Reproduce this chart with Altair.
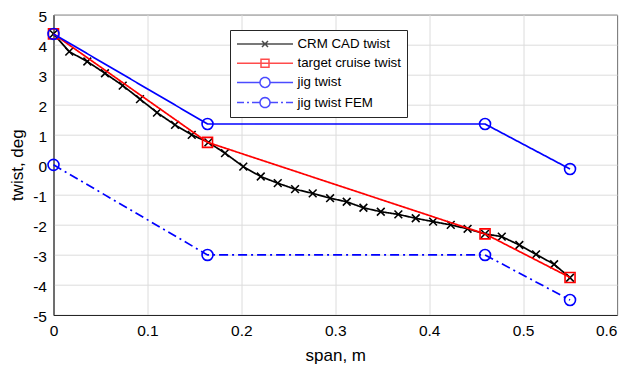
import math
import altair as alt
import pandas as pd

# ---------------- data ----------------
series_names = ["CRM CAD twist", "target cruise twist", "jig twist", "jig twist FEM"]
series_colors = ["#000000", "#ff0000", "#0000ff", "#0000ff"]

span_cad = [0.0, 0.0168, 0.036, 0.0548, 0.0737, 0.0921, 0.1102, 0.1294, 0.1472, 0.1649,
            0.1826, 0.2021, 0.2207, 0.2388, 0.2572, 0.276, 0.2945, 0.3122, 0.33, 0.3485,
            0.3672, 0.3857, 0.4042, 0.423, 0.4409, 0.4595, 0.4773, 0.496, 0.5138, 0.533, 0.55]
twist_cad = [4.36, 3.77, 3.44, 3.05, 2.64, 2.19, 1.74, 1.33, 1.00, 0.75,
             0.39, -0.06, -0.39, -0.61, -0.81, -0.95, -1.11, -1.23, -1.43, -1.56,
             -1.65, -1.78, -1.89, -2.00, -2.13, -2.30, -2.39, -2.67, -2.98, -3.31, -3.76]

span_key = [0.0, 0.164, 0.4595, 0.55]
twist_target = [4.36, 0.75, -2.30, -3.75]
twist_jig = [4.36, 1.36, 1.36, -0.14]
twist_jig_fem = [0.0, -3.0, -3.0, -4.5]

x_ticks = [0, 0.1, 0.2, 0.3, 0.4, 0.5, 0.6]
y_ticks = [-5, -4, -3, -2, -1, 0, 1, 2, 3, 4, 5]

frames = {
    "CRM CAD twist": pd.DataFrame({"span": span_cad, "twist": twist_cad}),
    "target cruise twist": pd.DataFrame({"span": span_key, "twist": twist_target}),
    "jig twist": pd.DataFrame({"span": span_key, "twist": twist_jig}),
    "jig twist FEM": pd.DataFrame({"span": span_key, "twist": twist_jig_fem}),
}
for k, f in frames.items():
    f["series"] = k

# ---------------- styles ----------------
X_PATH = "M-1,-1L1,1M-1,1L1,-1"
dash_fem = [9, 4, 2, 4]
styles = {
    "CRM CAD twist": dict(color="#000000", dash=[1, 0], shape=X_PATH, size=60),
    "target cruise twist": dict(color="#ff0000", dash=[1, 0], shape="square", size=100),
    "jig twist": dict(color="#0000ff", dash=[1, 0], shape="circle", size=120),
    "jig twist FEM": dict(color="#0000ff", dash=dash_fem, shape="circle", size=120),
}

xs = alt.X("span:Q", scale=alt.Scale(domain=[0, 0.6], nice=False, zero=False),
           axis=alt.Axis(values=x_ticks, title="span, m", format=".1~f", labelFlush=False,
                         labelAlign=alt.condition("datum.value >= 0.6", alt.value("right"),
                                                  alt.value("center")),
                         titleX=281.75, titleY=40, titleBaseline="middle"))
ys = alt.Y("twist:Q", scale=alt.Scale(domain=[-5, 5], nice=False, zero=False),
           axis=alt.Axis(values=y_ticks, title="twist, deg", labelExpr="'' + datum.value",
                         labelFlush=False, labelOffset=1.5,
                         titleX=-36, titleY=150, titleBaseline="middle"))

layers = []
for name in series_names:
    st = styles[name]
    base = alt.Chart(frames[name])
    layers.append(base.mark_line(color=st["color"], strokeWidth=1.7,
                                 strokeDash=st["dash"]).encode(x=xs, y=ys))
    layers.append(base.mark_point(shape=st["shape"], size=st["size"], filled=False,
                                  color=st["color"], strokeWidth=1.6, opacity=1).encode(x=xs, y=ys))

# ---------------- legend symbols (line + marker as custom paths) ----------------
U = 7.0  # px per path unit (sqrt(196)/2)


def seg(a, b):
    return "M%.3f,0L%.3f,0" % ((a - 7) / U, (b - 7) / U)


def circle(cx, r, n=24):
    pts = []
    for i in range(n + 1):
        t = 2 * math.pi * i / n
        pts.append(((cx + r * math.cos(t) - 7) / U, (r * math.sin(t)) / U))
    return "M" + "L".join("%.3f,%.3f" % p for p in pts)


def cross(cx, r):
    a = (cx - r - 7) / U
    b = (cx + r - 7) / U
    h = r / U
    return "M%.3f,%.3fL%.3f,%.3fM%.3f,%.3fL%.3f,%.3f" % (a, -h, b, h, a, h, b, -h)


def square(cx, r):
    a = (cx - r - 7) / U
    b = (cx + r - 7) / U
    h = r / U
    return "M%.3f,%.3fL%.3f,%.3fL%.3f,%.3fL%.3f,%.3fZ" % (a, -h, b, -h, b, h, a, h)


legend_paths = [
    seg(0, 56) + cross(28, 3),
    seg(0, 56) + square(28, 4),
    seg(0, 23) + circle(28, 5) + seg(33, 56),
    seg(0, 7) + seg(10, 12) + seg(15, 23) + circle(28, 5) + seg(33, 41) + seg(44, 46) + seg(49, 56),
]

legend_layer = alt.Chart(frames["CRM CAD twist"]).transform_filter("false").mark_point(
    filled=False, strokeWidth=1.5
).encode(
    x=xs, y=ys,
    color=alt.Color("series:N", scale=alt.Scale(domain=series_names, range=series_colors),
                    legend=alt.Legend(title=None)),
    shape=alt.Shape("series:N", scale=alt.Scale(domain=series_names, range=legend_paths),
                    legend=alt.Legend(title=None)),
)
layers.append(legend_layer)

chart = alt.layer(*layers).properties(
    width=563.5, height=300.3,
    autosize=alt.AutoSizeParams(type="none"),
    padding={"left": 45.5, "top": 6.7, "right": 2, "bottom": 50},
).configure_view(
    stroke="#262626", strokeWidth=1
).configure_axis(
    domainColor="#262626", domainWidth=1,
    gridColor="#dcdcdc", gridWidth=1,
    tickSize=0,
    labelFont="Liberation Sans", labelFontSize=15.5, labelColor="#000000",
    titleFont="Liberation Sans", titleFontSize=17, titleColor="#000000", titleFontWeight="normal",
).configure_axisX(labelPadding=8).configure_axisY(labelPadding=7).configure_legend(
    orient="none", legendX=176.5, legendY=15.3,
    strokeColor="#262626", fillColor="#ffffff", padding=6,
    symbolSize=196, symbolStrokeWidth=1.5, labelOffset=45.5,
    labelFont="Liberation Sans", labelFontSize=13.3, labelColor="#000000",
    rowPadding=4.2, symbolFillColor="transparent",
)

chart.save("out.html", embed_options={"renderer": "svg", "actions": False})
